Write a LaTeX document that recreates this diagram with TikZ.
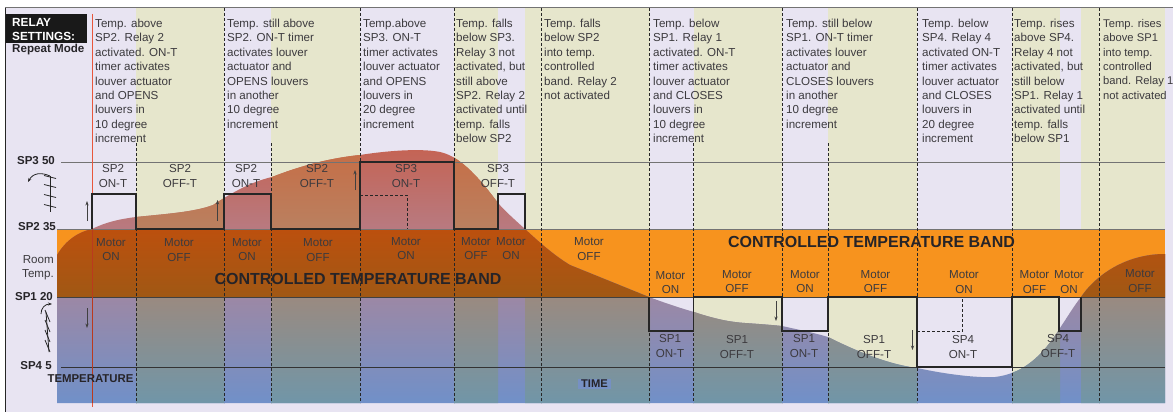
\documentclass[tikz,border=0pt]{standalone}
\usepackage{fontspec}
\setmainfont{Liberation Sans}
\usetikzlibrary{arrows.meta}
\definecolor{lav}{RGB}{232,228,242}
\definecolor{oliv}{RGB}{230,230,204}
\definecolor{orng}{RGB}{247,147,30}
\definecolor{ink}{RGB}{60,58,62}
\definecolor{inkb}{RGB}{38,36,40}
\definecolor{redl}{RGB}{232,87,60}
\definecolor{redd}{RGB}{186,58,30}
\definecolor{bandtop}{RGB}{188,80,14}
\definecolor{bandbot}{RGB}{160,88,20}
\definecolor{timebg}{RGB}{118,144,195}
\pgfdeclareverticalshading{lavgrad}{100bp}{rgb(0bp)=(0.44,0.565,0.785);rgb(25bp)=(0.44,0.565,0.785);rgb(46bp)=(0.612,0.533,0.647);rgb(59.5bp)=(0.722,0.478,0.502);rgb(75bp)=(0.769,0.392,0.333);rgb(100bp)=(0.769,0.392,0.333)}
\pgfdeclareverticalshading{olivgrad}{100bp}{rgb(0bp)=(0.44,0.588,0.659);rgb(25bp)=(0.44,0.588,0.659);rgb(46bp)=(0.604,0.541,0.502);rgb(59.5bp)=(0.729,0.502,0.376);rgb(75bp)=(0.776,0.431,0.275);rgb(100bp)=(0.776,0.431,0.275)}
\tikzset{
  body/.style={inner sep=0pt,align=left,anchor=north west,text=ink,font=\fontsize{11.6}{14.35}\selectfont},
  lab/.style={inner sep=0pt,align=center,text=ink,font=\fontsize{11.6}{14.35}\selectfont},
  spl/.style={inner sep=0pt,text=inkb,font=\bfseries\fontsize{11.5}{13}\selectfont},
  bandlab/.style={inner sep=0pt,text=inkb,font=\bfseries\fontsize{16}{18}\selectfont},
  wave/.style={draw=black!85,line width=1.8pt,line join=miter},
  dashln/.style={draw=black!85,line width=0.85pt,dash pattern=on 2.6pt off 2.4pt},
  arr/.style={draw=black!75,line width=0.7pt,-{Stealth[length=4.5pt,width=3.2pt]}},
  sym/.style={draw=black!85,line width=0.8pt},
}
\def\curvepath{(57,255) .. controls (66,240) and (78,232) .. (92,229)
  .. controls (106,222) and (120,219) .. (136,217)
  .. controls (165,214) and (195,212) .. (213,205)
  .. controls (230,194) and (250,182) .. (272,177)
  .. controls (300,166) and (330,158) .. (360,155)
  .. controls (385,151) and (420,148) .. (440,152)
  .. controls (458,156) and (475,172) .. (498,203)
  .. controls (505,211) and (515,220) .. (525,229)
  .. controls (540,243) and (555,256) .. (570,265)
  -- (649,297)
  .. controls (665,303) and (680,308) .. (694,312)
  .. controls (715,319) and (730,322) .. (745,323)
  .. controls (760,324) and (772,325) .. (782,326)
  .. controls (800,330) and (815,333) .. (828,337)
  .. controls (850,348) and (885,364) .. (917,368)
  .. controls (945,374) and (975,378) .. (995,377)
  .. controls (1020,374) and (1040,360) .. (1060,328)
  .. controls (1068,316) and (1074,306) .. (1081,297)
  .. controls (1095,276) and (1125,254) .. (1165,254)
  -- (1165,403) -- (57,403) -- cycle}
\begin{document}
\begin{tikzpicture}[x=1pt,y=-1pt]
\useasboundingbox (0,0) rectangle (1173,412);
% background
\fill[white] (0,0) rectangle (1173,412);
\fill[lav] (5,8) rectangle (1173,412);
\foreach \a/\b in {136/224,271/360,454/498,525/650,694/782,828/917,1012/1060,1081/1165}
  \fill[oliv] (\a,8) rectangle (\b,403);
\fill[orng] (57,229) rectangle (1165,297);
% area under the temperature curve
\begin{scope}
\clip \curvepath;
\path[shading=lavgrad] (57,150) rectangle (1165,403);
\foreach \a/\b in {136/224,271/360,454/498,525/650,694/782,828/917,1012/1060,1081/1165}
  \path[shading=olivgrad] (\a,150) rectangle (\b,403);
\path[top color=bandtop,bottom color=bandbot] (57,229) rectangle (1165,297);
\end{scope}
% frame
\draw[black!55,line width=1pt] (5,8) -- (1173,8);
\draw[black!85,line width=1pt] (5,8) -- (5,412);
% level lines
\draw[black!55,line width=1pt] (61,162) -- (1165,162);
\draw[black!55,line width=1pt] (57,229) -- (1165,229);
\draw[black!75,line width=0.9pt] (57,297) -- (1165,297);
\draw[black!80,line width=0.8pt] (61,367) -- (1165,367);
% dashed time lines
\foreach \x in {224,360,454,541.5,649,782,917,1012,1099} \draw[dashln] (\x,8) -- (\x,403);
\foreach \x in {136,271,693.5,828} \draw[dashln] (\x,143) -- (\x,403);
% red start line
\draw[redl,line width=1pt] (92,14) -- (92,229);
\draw[redd,line width=1pt] (92,229) -- (92,403);
\draw[redl,line width=1pt] (92,403) -- (92,407);
% relay waveforms
\draw[wave] (92,229) -- (92,194) -- (136,194) -- (136,229) -- (224,229) -- (224,194) -- (271,194) -- (271,229) -- (360,229) -- (360,162) -- (454,162) -- (454,229) -- (498,229) -- (498,194) -- (525,194) -- (525,229);
\draw[dashln] (360,195) -- (407,195) -- (407,229);
\draw[wave] (649,297) -- (649,331) -- (693.5,331) -- (693.5,297) -- (782,297) -- (782,331) -- (828,331) -- (828,297) -- (917,297) -- (917,367) -- (1012,367) -- (1012,297) -- (1059,297) -- (1059,331) -- (1081,331) -- (1081,297);
\draw[dashln] (917,331) -- (962.5,331) -- (962.5,297);
% small arrows
\draw[arr] (87,221) -- (87,201);
\draw[arr] (217.5,221) -- (217.5,200);
\draw[arr] (355,190) -- (355,170);
\draw[arr] (87,308) -- (87,328);
\draw[arr] (776,301) -- (776,321);
\draw[arr] (912.5,330) -- (912.5,350);
% louver symbols
\draw[sym] (50,176) -- (50,212);
\foreach \y in {177,186,196,206} \draw[sym] (44,\y-1.5) -- (56,\y+1.5);
\draw[sym,-{Stealth[length=4pt,width=3pt]}] (50,176) .. controls (41,172) and (33,173) .. (28,182);
\draw[sym] (46,312) -- (49,352);
\foreach \y in {316,326,336,346} \draw[sym] (45,\y-6) -- (50,\y+6);
\draw[sym,-{Stealth[length=4pt,width=3pt]}] (41,314) .. controls (41,308) and (45,304) .. (52,304);
% relay box
\fill[black!90] (6,14) rectangle (87,43);
\node[spl,text=white,anchor=west,font=\bfseries\fontsize{11.8}{13}\selectfont] (r1) at (12,22) {RELAY};
\node[spl,text=white,anchor=west,font=\bfseries\fontsize{11.8}{13}\selectfont] (r2) at (12,36) {SETTINGS:};
\node[spl,anchor=west,font=\bfseries\fontsize{11.6}{13}\selectfont] (r3) at (12,50) {Repeat Mode};
% column texts
\node[body] (t1) at (95,19) {Temp. above\\SP2. Relay 2\\activated. ON-T\\timer activates\\louver actuator\\and OPENS\\louvers in\\10 degree\\increment};
\node[body] (t2) at (227,19) {Temp. still above\\SP2. ON-T timer\\activates louver\\actuator and\\OPENS louvers\\in another\\10 degree\\increment};
\node[body] (t3) at (363,19) {Temp.above\\SP3. ON-T\\timer activates\\louver actuator\\and OPENS\\louvers in\\20 degree\\increment};
\node[body] (t4) at (456,19) {Temp. falls\\below SP3.\\Relay 3 not\\activated, but\\still above\\SP2. Relay 2\\activated until\\temp. falls\\below SP2};
\node[body] (t5) at (544,19) {Temp. falls\\below SP2\\into temp.\\controlled\\band. Relay 2\\not activated};
\node[body] (t6) at (653,19) {Temp. below\\SP1. Relay 1\\activated. ON-T\\timer activates\\louver actuator\\and CLOSES\\louvers in\\10 degree\\increment};
\node[body] (t7) at (786,19) {Temp. still below\\SP1. ON-T timer\\activates louver\\actuator and\\CLOSES louvers\\in another\\10 degree\\increment};
\node[body] (t8) at (922,19) {Temp. below\\SP4. Relay 4\\activated ON-T\\timer activates\\louver actuator\\and CLOSES\\louvers in\\20 degree\\increment};
\node[body] (t9) at (1014,19) {Temp. rises\\above SP4.\\Relay 4 not\\activated, but\\still below\\SP1. Relay 1\\activated until\\temp. falls\\below SP1};
\node[body,font=\fontsize{11.2}{14.35}\selectfont] (t10) at (1103,19) {Temp. rises\\above SP1\\into temp.\\controlled\\band. Relay 1\\not activated};
% timer labels
\foreach \x/\y/\a/\b [count=\i] in {113/176/SP2/ON-T,180/176/SP2/OFF-T,246/176/SP2/ON-T,317/176/SP2/OFF-T,406/176/SP3/ON-T,498/176/SP3/OFF-T,670/346/SP1/ON-T,737/347/SP1/OFF-T,804/346/SP1/ON-T,874/347/SP1/OFF-T,963/347/SP4/ON-T,1058/346/SP4/OFF-T}
  \node[lab] (tm\i) at (\x,\y) {\a\\\b};
% motor labels
\foreach \x/\y/\a [count=\i] in {111/249.5/ON,179/250/OFF,247/249.5/ON,318/250/OFF,406/248.5/ON,476/248.5/OFF,511/248.5/ON,589/249/OFF,670.5/282.5/ON,737/281.5/OFF,805/281.5/ON,875.5/281.5/OFF,964/282/ON,1034.5/282/OFF,1069/282/ON,1140/281/OFF}
  \node[lab] (mt\i) at (\x,\y) {Motor\\\a};
% band titles
\node[bandlab] (b1) at (358,279) {CONTROLLED TEMPERATURE BAND};
\node[bandlab] (b2) at (871.5,242) {CONTROLLED TEMPERATURE BAND};
% scale labels
\node[spl] (s3) at (36,161) {SP3 50};
\node[spl] (s2) at (37,227) {SP2 35};
\node[spl] (s1) at (34,297) {SP1 20};
\node[spl] (s4) at (36,366) {SP4 5};
\node[lab,anchor=east,align=right] (rt) at (54,267.5) {Room\\Temp.};
\node[spl,font=\bfseries\fontsize{11.4}{12}\selectfont] (tt) at (90.5,379) {TEMPERATURE};
\node[spl,fill=timebg,inner xsep=3pt,inner ysep=1.5pt,font=\bfseries\fontsize{11.2}{12}\selectfont] (tm) at (594.5,384) {TIME};
\end{tikzpicture}
\end{document}
